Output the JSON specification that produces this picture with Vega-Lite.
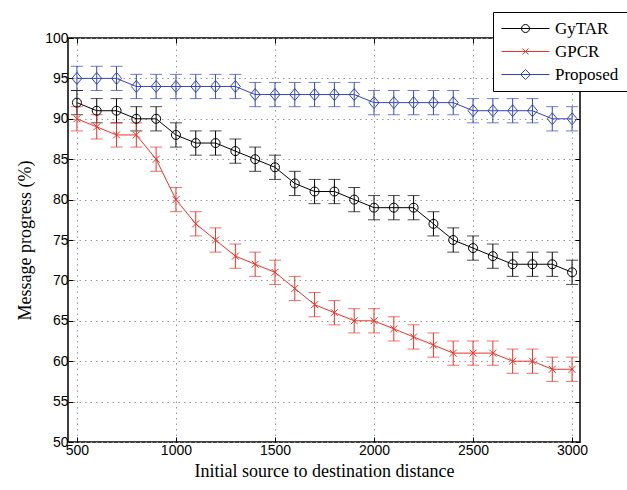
{
  "$schema": "https://vega.github.io/schema/vega-lite/v6.json",
  "width": 512,
  "height": 404,
  "autosize": {"type": "none"},
  "padding": {"left": 68, "top": 38, "right": 47, "bottom": 48},
  "background": "white",
  "config": {
    "view": {"stroke": "#000", "strokeWidth": 1.5},
    "font": "Liberation Serif",
    "axis": {
      "labelFont": "Liberation Sans", "titleFont": "Liberation Serif",
      "labelFontSize": 14, "titleFontSize": 18, "titleFontWeight": "normal",
      "labelColor": "#000", "titleColor": "#000", "domainColor": "#000",
      "tickColor": "#000", "tickSize": -5, "gridColor": "#999",
      "gridDash": [1.5, 4], "gridOpacity": 1, "gridWidth": 1
    },
    "legend": {"labelFont": "Liberation Serif", "labelFontSize": 17, "labelColor": "#000"}
  },
  "data": {"values": [
    {"d":500,"s":"GyTAR","v":92,"e":1.5},{"d":600,"s":"GyTAR","v":91,"e":1.5},{"d":700,"s":"GyTAR","v":91,"e":1.5},{"d":800,"s":"GyTAR","v":90,"e":1.5},{"d":900,"s":"GyTAR","v":90,"e":1.5},{"d":1000,"s":"GyTAR","v":88,"e":1.5},{"d":1100,"s":"GyTAR","v":87,"e":1.5},{"d":1200,"s":"GyTAR","v":87,"e":1.5},{"d":1300,"s":"GyTAR","v":86,"e":1.5},{"d":1400,"s":"GyTAR","v":85,"e":1.5},{"d":1500,"s":"GyTAR","v":84,"e":1.5},{"d":1600,"s":"GyTAR","v":82,"e":1.5},{"d":1700,"s":"GyTAR","v":81,"e":1.5},{"d":1800,"s":"GyTAR","v":81,"e":1.5},{"d":1900,"s":"GyTAR","v":80,"e":1.5},{"d":2000,"s":"GyTAR","v":79,"e":1.5},{"d":2100,"s":"GyTAR","v":79,"e":1.5},{"d":2200,"s":"GyTAR","v":79,"e":1.5},{"d":2300,"s":"GyTAR","v":77,"e":1.5},{"d":2400,"s":"GyTAR","v":75,"e":1.5},{"d":2500,"s":"GyTAR","v":74,"e":1.5},{"d":2600,"s":"GyTAR","v":73,"e":1.5},{"d":2700,"s":"GyTAR","v":72,"e":1.5},{"d":2800,"s":"GyTAR","v":72,"e":1.5},{"d":2900,"s":"GyTAR","v":72,"e":1.5},{"d":3000,"s":"GyTAR","v":71,"e":1.5},
    {"d":500,"s":"GPCR","v":90,"e":1.5},{"d":600,"s":"GPCR","v":89,"e":1.5},{"d":700,"s":"GPCR","v":88,"e":1.5},{"d":800,"s":"GPCR","v":88,"e":1.5},{"d":900,"s":"GPCR","v":85,"e":1.5},{"d":1000,"s":"GPCR","v":80,"e":1.5},{"d":1100,"s":"GPCR","v":77,"e":1.5},{"d":1200,"s":"GPCR","v":75,"e":1.5},{"d":1300,"s":"GPCR","v":73,"e":1.5},{"d":1400,"s":"GPCR","v":72,"e":1.5},{"d":1500,"s":"GPCR","v":71,"e":1.5},{"d":1600,"s":"GPCR","v":69,"e":1.5},{"d":1700,"s":"GPCR","v":67,"e":1.5},{"d":1800,"s":"GPCR","v":66,"e":1.5},{"d":1900,"s":"GPCR","v":65,"e":1.5},{"d":2000,"s":"GPCR","v":65,"e":1.5},{"d":2100,"s":"GPCR","v":64,"e":1.5},{"d":2200,"s":"GPCR","v":63,"e":1.5},{"d":2300,"s":"GPCR","v":62,"e":1.5},{"d":2400,"s":"GPCR","v":61,"e":1.5},{"d":2500,"s":"GPCR","v":61,"e":1.5},{"d":2600,"s":"GPCR","v":61,"e":1.5},{"d":2700,"s":"GPCR","v":60,"e":1.5},{"d":2800,"s":"GPCR","v":60,"e":1.5},{"d":2900,"s":"GPCR","v":59,"e":1.5},{"d":3000,"s":"GPCR","v":59,"e":1.5},
    {"d":500,"s":"Proposed","v":95,"e":1.5},{"d":600,"s":"Proposed","v":95,"e":1.5},{"d":700,"s":"Proposed","v":95,"e":1.5},{"d":800,"s":"Proposed","v":94,"e":1.5},{"d":900,"s":"Proposed","v":94,"e":1.5},{"d":1000,"s":"Proposed","v":94,"e":1.5},{"d":1100,"s":"Proposed","v":94,"e":1.5},{"d":1200,"s":"Proposed","v":94,"e":1.5},{"d":1300,"s":"Proposed","v":94,"e":1.5},{"d":1400,"s":"Proposed","v":93,"e":1.5},{"d":1500,"s":"Proposed","v":93,"e":1.5},{"d":1600,"s":"Proposed","v":93,"e":1.5},{"d":1700,"s":"Proposed","v":93,"e":1.5},{"d":1800,"s":"Proposed","v":93,"e":1.5},{"d":1900,"s":"Proposed","v":93,"e":1.5},{"d":2000,"s":"Proposed","v":92,"e":1.5},{"d":2100,"s":"Proposed","v":92,"e":1.5},{"d":2200,"s":"Proposed","v":92,"e":1.5},{"d":2300,"s":"Proposed","v":92,"e":1.5},{"d":2400,"s":"Proposed","v":92,"e":1.5},{"d":2500,"s":"Proposed","v":91,"e":1.5},{"d":2600,"s":"Proposed","v":91,"e":1.5},{"d":2700,"s":"Proposed","v":91,"e":1.5},{"d":2800,"s":"Proposed","v":91,"e":1.5},{"d":2900,"s":"Proposed","v":90,"e":1.5},{"d":3000,"s":"Proposed","v":90,"e":1.5}
  ]},
  "resolve": {"axis": {"x": "independent", "y": "independent"}, "scale": {"shape": "independent", "color": "independent"}},
  "layer": [
    {
      "mark": {"type": "errorbar", "ticks": {"size": 12}, "thickness": 1},
      "encoding": {
        "x": {"field": "d", "type": "quantitative", "title": "Initial source to destination distance",
              "scale": {"domain": [455, 3040], "nice": false, "zero": false},
              "axis": {"values": [500,1000,1500,2000,2500,3000], "format": "d", "grid": true, "domain": false, "labelPadding": 6, "titlePadding": 5}},
        "y": {"field": "v", "type": "quantitative", "title": "Message progress (%)",
              "scale": {"domain": [50, 100], "nice": false, "zero": false},
              "axis": {"values": [50,55,60,65,70,75,80,85,90,95,100], "format": "d", "grid": true, "domain": false, "labelPadding": 5, "titlePadding": 10}},
        "yError": {"field": "e"},
        "color": {"field": "s", "type": "nominal", "legend": null,
                  "scale": {"domain": ["GyTAR", "GPCR", "Proposed"], "range": ["#000000", "#e5352b", "#3346b4"]}}
      }
    },
    {
      "mark": {"type": "line", "strokeWidth": 1},
      "encoding": {
        "x": {"field": "d", "type": "quantitative",
              "axis": {"orient": "top", "labels": false, "title": null, "grid": false, "domain": false, "values": [500,1000,1500,2000,2500,3000]}},
        "y": {"field": "v", "type": "quantitative",
              "axis": {"orient": "right", "labels": false, "title": null, "grid": false, "domain": false, "values": [50,55,60,65,70,75,80,85,90,95,100]}},
        "color": {"field": "s", "type": "nominal", "legend": null,
                  "scale": {"domain": ["GyTAR", "GPCR", "Proposed"], "range": ["#000000", "#e5352b", "#3346b4"]}}
      }
    },
    {
      "mark": {"type": "point", "filled": false, "strokeWidth": 1, "opacity": 1, "size": 4},
      "encoding": {
        "x": {"field": "d", "type": "quantitative", "axis": null},
        "y": {"field": "v", "type": "quantitative", "axis": null},
        "color": {"field": "s", "type": "nominal", "legend": null,
                  "scale": {"domain": ["GyTAR", "GPCR", "Proposed"], "range": ["#000000", "#e5352b", "#3346b4"]}},
        "shape": {"field": "s", "type": "nominal", "legend": null,
                  "scale": {"domain": ["GyTAR", "GPCR", "Proposed"], "range": ["M4.5,0A4.5,4.5 0 1 1 -4.5,0A4.5,4.5 0 1 1 4.5,0", "M-3.5,-3.5L3.5,3.5M-3.5,3.5L3.5,-3.5", "M0,-6L5,0L0,6L-5,0Z"]}}
      }
    },
    {
      "mark": {"type": "point", "filled": false, "strokeWidth": 1, "size": 0},
      "encoding": {
        "x": {"field": "d", "type": "quantitative", "axis": null},
        "y": {"field": "v", "type": "quantitative", "axis": null},
        "color": {"field": "s", "type": "nominal",
                   "scale": {"domain": ["GyTAR", "GPCR", "Proposed"], "range": ["#000000", "#e5352b", "#3346b4"]},
                   "legend": {
                     "title": null, "orient": "none", "legendX": 425, "legendY": -26,
                     "fillColor": "white", "strokeColor": "#000", "padding": 8,
                     "symbolSize": 4, "labelOffset": 37, "rowPadding": 5, "symbolStrokeWidth": 1,
                     "symbolOpacity": 1, "symbolFillColor": "transparent"
                   }},
        "shape": {"field": "s", "type": "nominal",
                  "scale": {"domain": ["GyTAR", "GPCR", "Proposed"], "range": ["M-8,0L40,0M20,0A4,4 0 1 1 12,0A4,4 0 1 1 20,0", "M-8,0L40,0M13,-3L19,3M13,3L19,-3", "M-8,0L40,0M16,-5L21,0L16,5L11,0Z"]},
                  "legend": {
                     "title": null, "orient": "none", "legendX": 425, "legendY": -26,
                     "fillColor": "white", "strokeColor": "#000", "padding": 8,
                     "symbolSize": 4, "labelOffset": 37, "rowPadding": 5, "symbolStrokeWidth": 1,
                     "symbolOpacity": 1, "symbolFillColor": "transparent"
                   }}
      }
    }
  ]
}
